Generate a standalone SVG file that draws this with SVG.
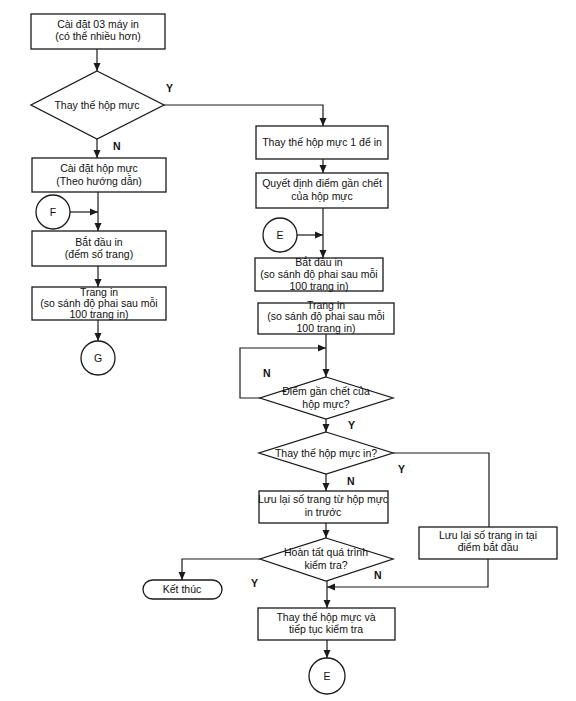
<svg xmlns="http://www.w3.org/2000/svg" width="576" height="701" viewBox="0 0 576 701">
<defs>
<marker id="ah" markerUnits="userSpaceOnUse" markerWidth="8" markerHeight="8" refX="8" refY="4" orient="auto">
<path d="M0,0.5 L8,4 L0,7.5 z" fill="#1a1a1a"/>
</marker>
</defs>
<style>
.n{fill:#fff;stroke:#1a1a1a;stroke-width:1.3}
.t{font-family:"Liberation Sans",Arial,sans-serif;font-size:10.5px;fill:#111;text-anchor:middle}
.l{font-family:"Liberation Sans",Arial,sans-serif;font-size:10.5px;fill:#111;font-weight:bold}
.c{fill:none;stroke:#1a1a1a;stroke-width:1.2}
</style>
<rect width="576" height="701" fill="#fff"/>
<g id="connectors">
<path class="c" d="M97,49 V71" marker-end="url(#ah)"/>
<path class="c" d="M97,139 V158" marker-end="url(#ah)"/>
<path class="c" d="M164,105 H323 V126" marker-end="url(#ah)"/>
<path class="c" d="M70,212 H98" marker-end="url(#ah)"/>
<path class="c" d="M98,192 V231" marker-end="url(#ah)"/>
<path class="c" d="M98,266 V287" marker-end="url(#ah)"/>
<path class="c" d="M98,320 V341" marker-end="url(#ah)"/>
<path class="c" d="M323,159 V173" marker-end="url(#ah)"/>
<path class="c" d="M297,235 H323" marker-end="url(#ah)"/>
<path class="c" d="M323,208 V258" marker-end="url(#ah)"/>
<path class="c" d="M326,334 V377" marker-end="url(#ah)"/>
<path class="c" d="M260,398 H240 V348 H326" marker-end="url(#ah)"/>
<path class="c" d="M326,419 V432" marker-end="url(#ah)"/>
<path class="c" d="M393,453 H489 V527"/>
<path class="c" d="M326,474 V491" marker-end="url(#ah)"/>
<path class="c" d="M326,523 V538" marker-end="url(#ah)"/>
<path class="c" d="M260,559 H182 V580" marker-end="url(#ah)"/>
<path class="c" d="M327,581 V608" marker-end="url(#ah)"/>
<path class="c" d="M488,559 V587 H327" marker-end="url(#ah)"/>
<path class="c" d="M327,640 V658" marker-end="url(#ah)"/>
<text class="l" x="166" y="92">Y</text>
<text class="l" x="113" y="150">N</text>
<text class="l" x="263" y="377">N</text>
<text class="l" x="348" y="429">Y</text>
<text class="l" x="398" y="473">Y</text>
<text class="l" x="347" y="485">N</text>
<text class="l" x="251" y="587">Y</text>
<text class="l" x="374" y="579">N</text>
</g>
<g id="n1"><rect class="n" x="31" y="14" width="134" height="35"/><text class="t" x="98" y="28">Cài đặt 03 máy in</text><text class="t" x="98" y="40">(có thể nhiều hơn)</text></g>
<g id="d1"><path class="n" d="M97,71 L164,105 L97,139 L31,105 z"/><text class="t" x="97" y="109">Thay thế hộp mực</text></g>
<g id="n3"><rect class="n" x="32" y="158" width="134" height="34"/><text class="t" x="99" y="172">Cài đặt hộp mực</text><text class="t" x="99" y="185">(Theo hướng dẫn)</text></g>
<g id="f"><circle class="n" cx="53" cy="212" r="17"/><text class="t" x="53" y="216">F</text></g>
<g id="n4"><rect class="n" x="32" y="231" width="134" height="35"/><text class="t" x="99" y="246">Bắt đầu in</text><text class="t" x="99" y="258">(đếm số trang)</text></g>
<g id="n5"><rect class="n" x="32" y="287" width="134" height="33"/><text class="t" x="99" y="296">Trang in</text><text class="t" x="99" y="307">(so sánh độ phai sau mỗi</text><text class="t" x="99" y="318">100 trang in)</text></g>
<g id="g"><circle class="n" cx="98" cy="358" r="17"/><text class="t" x="98" y="362">G</text></g>
<g id="n2"><rect class="n" x="256" y="126" width="132" height="33"/><text class="t" x="322" y="146">Thay thế hộp mực 1 để in</text></g>
<g id="n6"><rect class="n" x="256" y="173" width="132" height="35"/><text class="t" x="322" y="187">Quyết định điểm gần chết</text><text class="t" x="322" y="200">của hộp mực</text></g>
<g id="e1"><circle class="n" cx="280" cy="235" r="17"/><text class="t" x="280" y="239">E</text></g>
<g id="n7"><rect class="n" x="255" y="258" width="128" height="33"/><text class="t" x="319" y="266">Bắt đầu in</text><text class="t" x="319" y="278">(so sánh độ phai sau mỗi</text><text class="t" x="319" y="289.5">100 trang in)</text></g>
<g id="n8"><rect class="n" x="258" y="303" width="136" height="31"/><text class="t" x="326" y="309">Trang in</text><text class="t" x="326" y="320">(so sánh độ phai sau mỗi</text><text class="t" x="326" y="332">100 trang in)</text></g>
<g id="d2"><path class="n" d="M326,377 L393,398 L326,419 L260,398 z"/><text class="t" x="326" y="395">Điểm gần chết của</text><text class="t" x="326" y="408">hộp mực?</text></g>
<g id="d3"><path class="n" d="M326,432 L393,453 L326,474 L259,453 z"/><text class="t" x="326" y="457">Thay thế hộp mực in?</text></g>
<g id="n9"><rect class="n" x="259" y="491" width="129" height="32"/><text class="t" x="323" y="503">Lưu lại số trang từ hộp mực</text><text class="t" x="323" y="516">in trước</text></g>
<g id="n10"><rect class="n" x="419" y="527" width="138" height="32"/><text class="t" x="488" y="539">Lưu lại số trang in tại</text><text class="t" x="488" y="551">điểm bắt đầu</text></g>
<g id="d4"><path class="n" d="M326,538 L393,559 L326,581 L260,559 z"/><text class="t" x="326" y="556">Hoàn tất quá trình</text><text class="t" x="326" y="569">kiểm tra?</text></g>
<g id="end"><rect class="n" x="143" y="580" width="79" height="19" rx="9.5"/><text class="t" x="182" y="593">Kết thúc</text></g>
<g id="n11"><rect class="n" x="258" y="608" width="137" height="32"/><text class="t" x="326" y="621">Thay thế hộp mực và</text><text class="t" x="326" y="633">tiếp tục kiểm tra</text></g>
<g id="e2"><circle class="n" cx="327" cy="676" r="18"/><text class="t" x="327" y="680">E</text></g>
</svg>
